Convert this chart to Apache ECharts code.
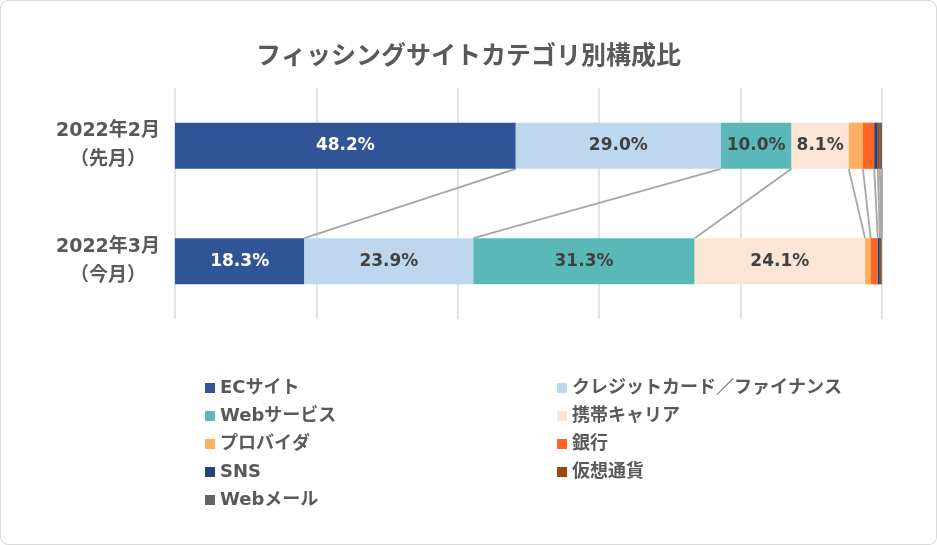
<!DOCTYPE html>
<html>
<head>
<meta charset="utf-8">
<script src="https://cdn.jsdelivr.net/npm/echarts@6/dist/echarts.min.js"></script>
<style>
html,body{margin:0;padding:0;background:#fff;}
#wrap{position:absolute;left:0;top:0;width:935px;height:543px;border:1px solid #d9d9d9;border-radius:8px;overflow:hidden;}
#chart{width:935px;height:543px;}
</style>
</head>
<body>
<div id="wrap"><div id="chart"></div></div>
<script>
var title = 'フィッシングサイトカテゴリ別構成比';
var categories = ['2022年2月\n（先月）', '2022年3月\n（今月）'];
var seriesNames = ['ECサイト', 'クレジットカード／ファイナンス', 'Webサービス', '携帯キャリア', 'プロバイダ', '銀行', 'SNS', '仮想通貨', 'Webメール'];
var febValues = [48.2, 29.0, 10.0, 8.1, 2.0, 1.6, 0.5, 0.3, 0.3];
var marValues = [18.3, 23.9, 31.3, 24.1, 0.8, 1.0, 0.3, 0.2, 0.1];
var colors = ['#2F5597', '#BDD7EE', '#5BB8B8', '#FBE5D6', '#FFAF5F', '#FF6523', '#264478', '#9E480E', '#636363'];
var labelColors = ['#ffffff', '#404040', '#404040', '#404040', '#404040', '#404040', '#404040', '#404040', '#404040'];
var leftLegend = ['ECサイト', 'Webサービス', 'プロバイダ', 'SNS', 'Webメール'];
var rightLegend = ['クレジットカード／ファイナンス', '携帯キャリア', '銀行', '仮想通貨'];

var FONT = '"DejaVu Sans", "Noto Sans CJK JP", sans-serif';
var BAR_RATIO = 0.4;

function cumulative(arr) {
  var out = [], s = 0;
  for (var i = 0; i < arr.length; i++) { s += arr[i]; out.push(+s.toFixed(2)); }
  return out;
}
var febCum = cumulative(febValues);
var marCum = cumulative(marValues);
var connectorData = febCum.map(function (v, i) { return [v, marCum[i]]; });

var series = seriesNames.map(function (name, i) {
  return {
    name: name,
    type: 'bar',
    stack: 'total',
    barCategoryGap: '60%',
    itemStyle: { color: colors[i] },
    label: {
      show: true,
      position: 'inside',
      fontFamily: FONT,
      fontSize: 17,
      fontWeight: 'bold',
      color: labelColors[i],
      formatter: function (p) { return p.value >= 5 ? p.value.toFixed(1) + '%' : ''; }
    },
    data: [febValues[i], marValues[i]]
  };
});

series.push({
  name: 'connector',
  type: 'custom',
  silent: true,
  z: 1,
  renderItem: function (params, api) {
    var p1 = api.coord([api.value(0), 0]);
    var p2 = api.coord([api.value(1), 1]);
    var band = api.size([0, 1])[1];
    var half = band * BAR_RATIO / 2;
    return {
      type: 'line',
      shape: { x1: p1[0], y1: p1[1] + half, x2: p2[0], y2: p2[1] - half },
      style: { stroke: '#A6A6A6', lineWidth: 1.8 }
    };
  },
  encode: { x: [0, 1] },
  data: connectorData
});

var legendCommon = {
  orient: 'vertical',
  icon: 'rect',
  itemWidth: 10,
  itemHeight: 10,
  itemGap: 8,
  textStyle: { fontFamily: FONT, fontSize: 18, fontWeight: 'bold', color: '#595959', lineHeight: 20 }
};

var chart = echarts.init(document.getElementById('chart'));
chart.setOption({
  animation: false,
  color: colors,
  title: {
    text: title,
    left: 'center',
    top: 39,
    textStyle: { fontFamily: FONT, fontSize: 25, fontWeight: 'bold', color: '#595959' }
  },
  legend: [
    Object.assign({}, legendCommon, { data: leftLegend, left: 199, top: 372 }),
    Object.assign({}, legendCommon, { data: rightLegend, left: 551, top: 372 })
  ],
  grid: { left: 174, right: 54, top: 87, bottom: 225 },
  xAxis: {
    type: 'value',
    min: 0,
    max: 100,
    interval: 20,
    axisLabel: { show: false },
    axisLine: { show: false },
    axisTick: { show: false },
    splitLine: { show: true, lineStyle: { color: '#D9D9D9', width: 1.5 } }
  },
  yAxis: {
    type: 'category',
    inverse: true,
    data: categories,
    axisLine: { show: false },
    axisTick: { show: false },
    axisLabel: {
      fontFamily: FONT,
      fontSize: 19,
      fontWeight: 'bold',
      color: '#595959',
      lineHeight: 29,
      align: 'center',
      margin: 67
    }
  },
  series: series
});
</script>
</body>
</html>
